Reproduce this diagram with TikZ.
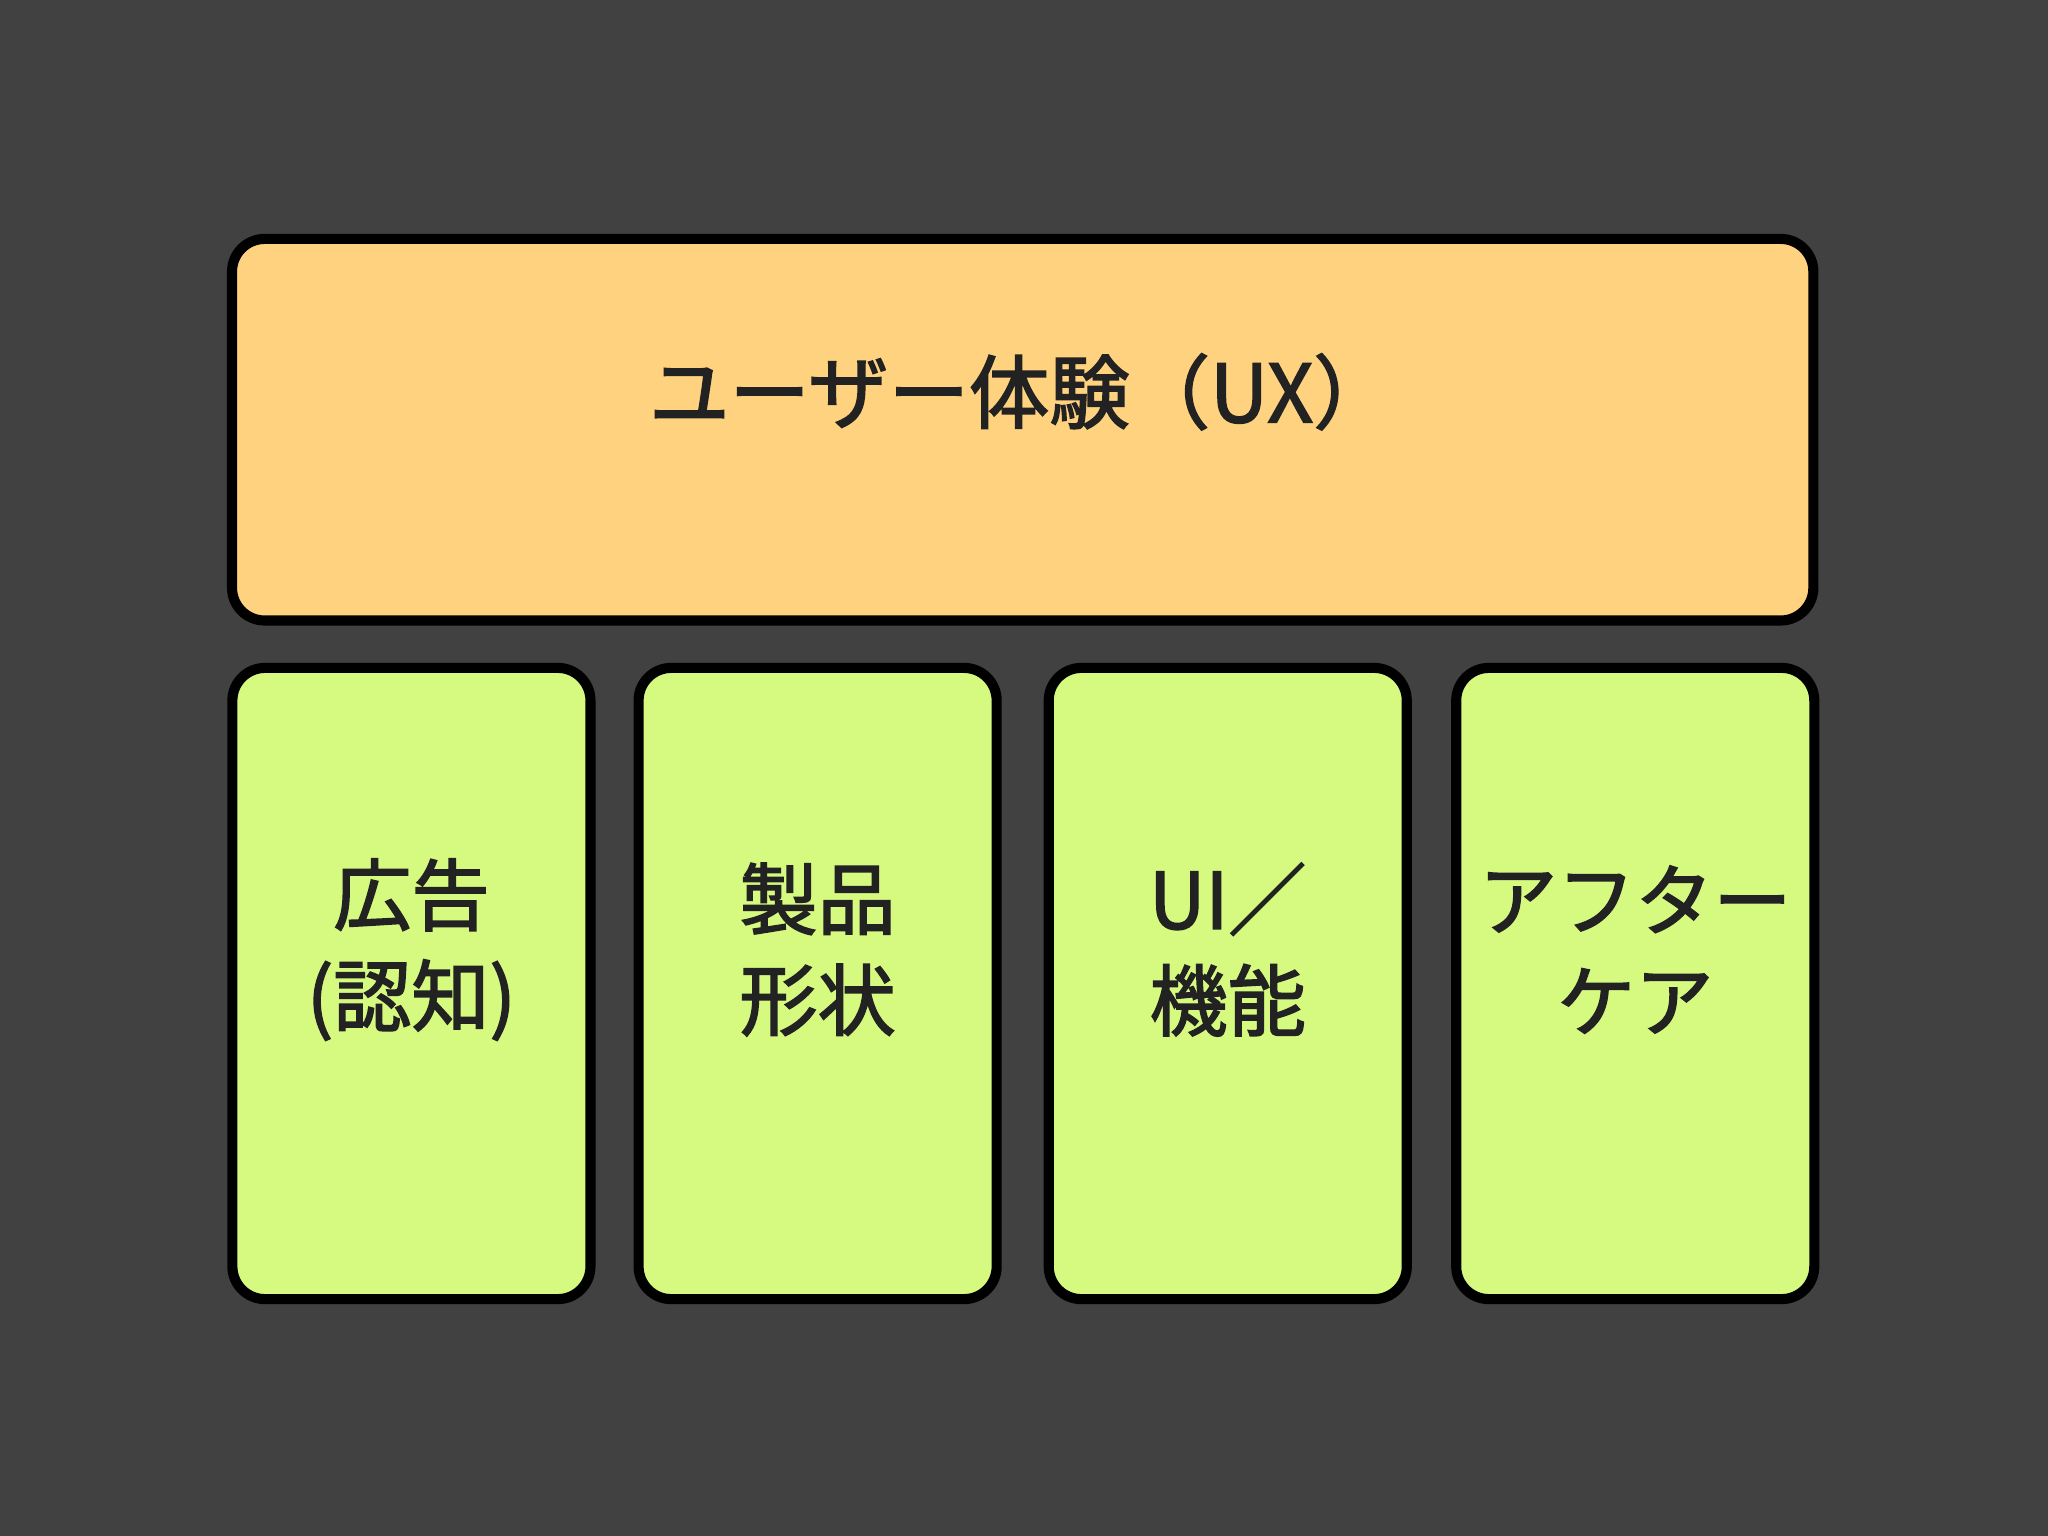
\documentclass[tikz,border=0pt]{standalone}
\usepackage{fontspec}
\setmainfont[BoldFont={Noto Sans CJK JP},BoldFeatures={FakeBold=2.0}]{Noto Sans CJK JP}
\definecolor{bg}{HTML}{414141}
\definecolor{orangebox}{HTML}{FFD27F}
\definecolor{greenbox}{HTML}{D5FA7F}
\definecolor{txt}{HTML}{222222}
\begin{document}
\begin{tikzpicture}[x=0.01cm,y=-0.01cm,
  box/.style={draw=black,line width=2.2pt,rounded corners=0.25cm,inner sep=0pt},
  lbl/.style={text=txt,font=\bfseries\fontsize{17}{22}\selectfont,align=center}]
\fill[bg] (0,0) rectangle (1568,1176);
\useasboundingbox (0,0) rectangle (1568,1176);
\node[box,fill=orangebox,minimum width=12.10cm,minimum height=2.92cm] (ux) at (783,329) {};
\node[lbl,font=\bfseries\fontsize{17.5}{22}\selectfont] (uxt) at (782,300) {ユーザー体験（UX）};
\foreach \n/\cx in {ad/315,prod/626,ui/940,care/1252}{
  \node[box,fill=greenbox,minimum width=2.74cm,minimum height=4.83cm] (\n) at (\cx,753) {};
}
\node[lbl] (adt) at (315,727) {広告\\(認知)};
\node[lbl] (prodt) at (626,727) {製品\\形状};
\node[lbl] (uit) at (940,727) {UI／\\機能};
\node[lbl] (caret) at (1252,727) {アフター\\ケア};
\end{tikzpicture}
\end{document}
